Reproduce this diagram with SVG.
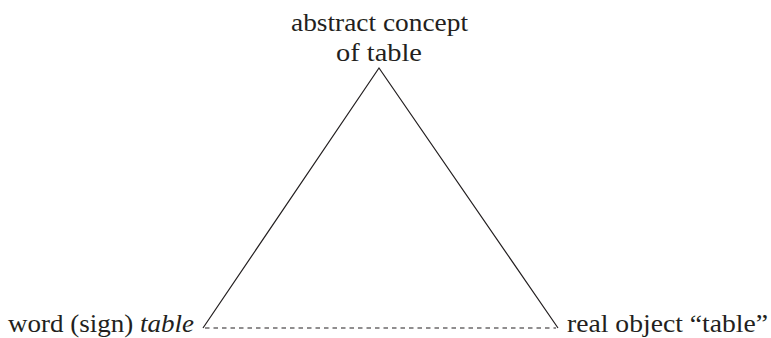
<svg xmlns="http://www.w3.org/2000/svg" width="771" height="338" viewBox="0 0 771 338">
<style>
text{font-family:"Liberation Serif",serif;font-size:25px;fill:#231f20}
.l{stroke:#231f20;stroke-width:1.2;fill:none}
.d{stroke-dasharray:4.5,4}
</style>
<rect width="771" height="338" fill="#fff"/>
<g id="connectors">
<path class="l" d="M203,328 L379,68 L558,328"/>
<path class="l d" d="M205,328 H556"/>
</g>
<g id="concept"><text x="291" y="31" textLength="177" lengthAdjust="spacingAndGlyphs">abstract concept</text><text x="336" y="61" textLength="86" lengthAdjust="spacingAndGlyphs">of table</text></g>
<g id="word"><text x="8" y="332" textLength="186" lengthAdjust="spacingAndGlyphs">word (sign) <tspan font-style="italic">table</tspan></text></g>
<g id="object"><text x="567" y="332" textLength="201" lengthAdjust="spacingAndGlyphs">real object “table”</text></g>
</svg>
